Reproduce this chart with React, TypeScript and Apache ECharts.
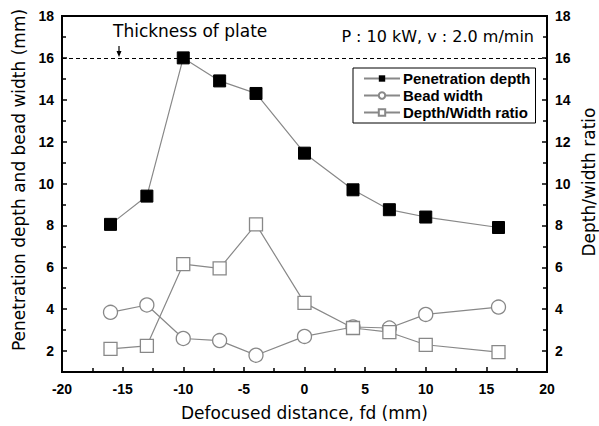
import React, { useEffect, useRef } from "react";
import * as echarts from "echarts";

const xValues = [-16, -13, -10, -7, -4, 0, 4, 7, 10, 16];
const penetrationDepth = [8.05, 9.4, 16.0, 14.9, 14.3, 11.45, 9.7, 8.75, 8.4, 7.9];
const beadWidth = [3.85, 4.2, 2.6, 2.5, 1.8, 2.7, 3.15, 3.1, 3.75, 4.1];
const depthWidthRatio = [2.1, 2.25, 6.15, 5.95, 8.05, 4.3, 3.1, 2.9, 2.3, 1.95];
const yMajorTicks = [2, 4, 6, 8, 10, 12, 14, 16, 18];
const yMinorTicks = [3, 5, 7, 9, 11, 13, 15, 17];
const plateThickness = 16;

const FONT = "Liberation Sans";
const WIDE = "DejaVu Sans";

export default function App() {
  const ref = useRef<HTMLDivElement>(null);
  useEffect(() => {
    if (!ref.current) return;
    const chart = echarts.init(ref.current, null, { renderer: "svg" });
    const pair = (ys: number[]) => xValues.map((x, i) => [x, ys[i]]);
    const labelStyle = { color: "#000", fontSize: 14, fontWeight: "bold", fontFamily: FONT };
    const yAxisBase = (pos: "left" | "right", show: boolean, ticks: number[], len: number) => ({
      type: "value",
      position: pos,
      min: 1,
      max: 18,
      splitLine: { show: false },
      axisLine: { show: show, onZero: false, lineStyle: { color: "#000", width: 2 } },
      axisTick: { show: true, inside: true, length: len, customValues: ticks, lineStyle: { color: "#000", width: 1.5 } },
      axisLabel: show
        ? { ...labelStyle, customValues: yMajorTicks, margin: 8 }
        : { show: false },
    });
    chart.setOption({
      animation: false,
      grid: { left: 62, right: 52, top: 16, bottom: 53, show: true, borderColor: "#000", borderWidth: 2 },
      xAxis: {
        type: "value",
        min: -20,
        max: 20,
        interval: 5,
        name: "Defocused distance, fd (mm)",
        nameLocation: "middle",
        nameGap: 32,
        nameTextStyle: { color: "#000", fontSize: 17, fontFamily: WIDE },
        splitLine: { show: false },
        axisLine: { onZero: false, lineStyle: { color: "#000", width: 2 } },
        axisTick: { inside: true, length: 5, lineStyle: { color: "#000", width: 1.5 } },
        minorTick: { show: true, splitNumber: 2, length: 4, lineStyle: { color: "#000", width: 1.5 } },
        axisLabel: { ...labelStyle, margin: 10 },
      },
      yAxis: [
        yAxisBase("left", true, yMajorTicks, 5),
        yAxisBase("right", true, yMajorTicks, 5),
        yAxisBase("left", false, yMinorTicks, 4),
        yAxisBase("right", false, yMinorTicks, 4),
      ],
      legend: {
        orient: "vertical",
        left: 353,
        top: 68,
        width: 182,
        borderColor: "#000",
        borderWidth: 1,
        padding: [3, 5, 3, 10],
        itemGap: 2,
        itemWidth: 36,
        itemHeight: 8,
        textStyle: { color: "#000", fontSize: 15, fontWeight: "bold", fontFamily: FONT, padding: [0, 0, 0, -2] },
        data: ["Penetration depth", "Bead width", "Depth/Width ratio"],
      },
      graphic: [
        {
          type: "text",
          x: 19,
          y: 180,
          rotation: Math.PI / 2,
          style: {
            text: "Penetration depth and bead width (mm)",
            fontSize: 17,
            fontFamily: WIDE,
            fill: "#000",
            align: "center",
            verticalAlign: "middle",
          },
        },
        {
          type: "text",
          x: 589,
          y: 182,
          rotation: Math.PI / 2,
          style: {
            text: "Depth/width ratio",
            fontSize: 17,
            fontFamily: WIDE,
            fill: "#000",
            align: "center",
            verticalAlign: "middle",
          },
        },
        {
          type: "text",
          x: 113,
          y: 31,
          style: { text: "Thickness of plate", fontSize: 17, fontFamily: WIDE, fill: "#000", align: "left", verticalAlign: "middle" },
        },
        {
          type: "text",
          x: 534,
          y: 36,
          style: { text: "P : 10 kW, v : 2.0 m/min", fontSize: 16, fontFamily: WIDE, fill: "#000", align: "right", verticalAlign: "middle" },
        },
        {
          type: "line",
          shape: { x1: 119, y1: 46, x2: 119, y2: 55 },
          style: { stroke: "#000", lineWidth: 1.2 },
        },
        {
          type: "polygon",
          shape: { points: [[116.5, 51], [121.5, 51], [119, 57]] },
          style: { fill: "#000" },
        },
      ],
      series: [
        {
          name: "Penetration depth",
          type: "line",
          data: pair(penetrationDepth),
          symbol: "rect",
          symbolSize: 12,
          itemStyle: { color: "#000", borderColor: "#000" },
          lineStyle: { color: "#888", width: 1.2 },
          markLine: {
            silent: true,
            symbol: ["none", "none"],
            label: { show: false },
            lineStyle: { color: "#000", type: [4, 3], width: 1 },
            data: [{ yAxis: plateThickness }],
          },
        },
        {
          name: "Bead width",
          type: "line",
          data: pair(beadWidth),
          symbol: "circle",
          symbolSize: 14,
          itemStyle: { color: "#fff", borderColor: "#888", borderWidth: 1.3 },
          lineStyle: { color: "#888", width: 1.2 },
          z: 3,
        },
        {
          name: "Depth/Width ratio",
          type: "line",
          data: pair(depthWidthRatio),
          symbol: "rect",
          symbolSize: 13,
          itemStyle: { color: "#fff", borderColor: "#888", borderWidth: 1.3 },
          lineStyle: { color: "#888", width: 1.2 },
          z: 3,
        },
      ],
    });
    return () => chart.dispose();
  }, []);
  return <div ref={ref} style={{ width: 599, height: 426, position: "absolute", left: 0, top: 0 }} />;
}
